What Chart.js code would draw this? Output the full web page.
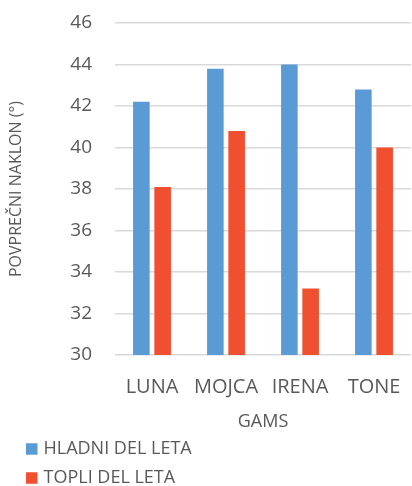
<!DOCTYPE html>
<html>
<head>
<meta charset="utf-8">
<script src="https://cdn.jsdelivr.net/npm/chart.js@4/dist/chart.umd.min.js"></script>
<style>
  html, body { margin: 0; padding: 0; background: #ffffff; }
  #wrap { width: 412px; height: 486px; }
</style>
</head>
<body>
<div id="wrap"><canvas id="chart" width="412" height="486"></canvas></div>
<script>
// Average slope per cow, cold vs warm part of the summer
const categories = ['LUNA', 'MOJCA', 'IRENA', 'TONE'];
const hladniDelLeta = [42.2, 43.8, 44.0, 42.8];
const topliDelLeta = [38.1, 40.8, 33.2, 40.0];
const seriesNames = ['HLADNI DEL LETA', 'TOPLI DEL LETA'];
const yTickValues = [30, 32, 34, 36, 38, 40, 42, 44, 46];
const xTitle = 'GAMS';
const yTitle = 'POVPREČNI NAKLON (°)';

const FONT = '"Open Sans", "Liberation Sans", sans-serif';
const TEXT = '#595959';
const BLUE = '#5B9BD5';
const RED = '#F0502F';

// Legend drawn as a single column below the axis title
const columnLegend = {
  id: 'columnLegend',
  afterDraw(chart, args, opts) {
    const ctx = chart.ctx;
    ctx.save();
    ctx.font = opts.size + 'px ' + FONT;
    ctx.textBaseline = 'middle';
    ctx.textAlign = 'left';
    chart.data.datasets.forEach((ds, i) => {
      const y = opts.top + i * opts.rowGap;
      ctx.fillStyle = ds.backgroundColor;
      ctx.fillRect(opts.left, y - opts.box / 2, opts.box, opts.box);
      ctx.fillStyle = TEXT;
      ctx.fillText(ds.label, opts.left + opts.box + 6, y);
    });
    ctx.restore();
  }
};

new Chart(document.getElementById('chart'), {
  type: 'bar',
  data: {
    labels: categories,
    datasets: [
      { label: seriesNames[0], data: hladniDelLeta, backgroundColor: BLUE },
      { label: seriesNames[1], data: topliDelLeta, backgroundColor: RED }
    ]
  },
  plugins: [columnLegend],
  options: {
    responsive: false,
    animation: false,
    devicePixelRatio: 1,
    layout: { padding: { top: 23, right: 1, bottom: 53, left: 0 } },
    datasets: {
      bar: { categoryPercentage: 0.575, barPercentage: 0.78 }
    },
    plugins: {
      legend: { display: false },
      tooltip: { enabled: false },
      columnLegend: { left: 26, top: 449, rowGap: 29, box: 11.5, size: 18 }
    },
    scales: {
      x: {
        grid: { display: false, drawTicks: false },
        border: { display: false },
        ticks: { color: TEXT, font: { family: FONT, size: 20 }, padding: 20, maxRotation: 0, autoSkip: false },
        title: { display: true, text: xTitle, color: TEXT, font: { family: FONT, size: 18 }, padding: { top: 0, bottom: 0 } },
        afterFit(scale) {
          scale.height = 78;
          scale.paddingLeft = 0;
          scale.paddingRight = 0;
        }
      },
      y: {
        min: 30,
        max: 46,
        afterBuildTicks(scale) { scale.ticks = yTickValues.map(v => ({ value: v })); },
        grid: { color: '#D9D9D9', lineWidth: 1.5, drawTicks: false },
        border: { display: false },
        ticks: { color: TEXT, font: { family: FONT, size: 19 }, padding: 23 },
        title: { display: true, text: yTitle, color: TEXT, font: { family: FONT, size: 16 }, padding: { top: 7, bottom: 4 } },
        afterFit(scale) {
          scale.width = 115;
          scale.paddingTop = 0;
          scale.paddingBottom = 0;
        }
      }
    }
  }
});
</script>
</body>
</html>
